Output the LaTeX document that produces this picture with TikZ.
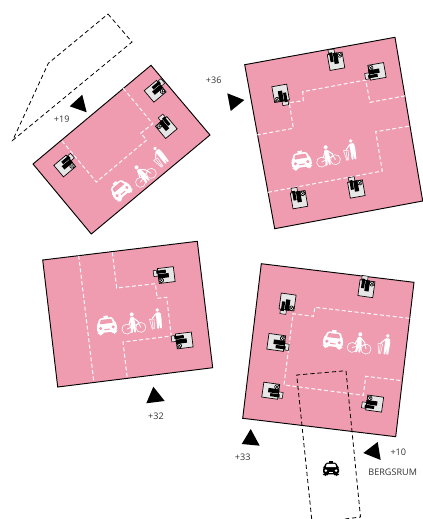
\documentclass[tikz,border=0pt]{standalone}
\usepackage{fontspec}
\setmainfont{Open Sans}
\definecolor{pinkfill}{HTML}{EF9BB0}
\definecolor{bldgrey}{HTML}{E6E6E6}
\definecolor{txtc}{HTML}{333333}
\tikzset{
  plot/.style={draw=black,line width=0.7pt,fill=pinkfill,line join=miter},
  walkway/.style={draw=white!90!pinkfill,line width=0.8pt,dash pattern=on 3pt off 1.8pt},
  limit/.style={draw=black,line width=0.6pt,dash pattern=on 3.2pt off 2.2pt},
  marker/.style={fill=black,draw=none},
  lbl/.style={font=\fontsize{6.8}{8}\selectfont,text=txtc,inner sep=0pt},
  pics/bld/.style={code={
    \fill[bldgrey,draw=black,line width=0.5pt] (-7.5,-6) rectangle (7.5,10);
    \fill[bldgrey,draw=black,line width=0.4pt] (-6,-10.5) rectangle (0,-6);
    \fill[black] (-5.5,-7.5) rectangle (-2.4,2);
    \fill[black] (-1.8,-6.5) rectangle (2.5,4.5);
    \fill[white,draw=black,line width=0.5pt] (4.6,-3.6) circle (2.3);
    \draw[black,line width=0.4pt] (3.3,-4.9) -- (5.9,-2.3) (3.3,-2.3) -- (5.9,-4.9);
  }},
  pics/car/.style 2 args={code={
    \fill[#1] (-2.2,-10) rectangle (2.2,-7.8);
    \fill[#1,rounded corners=1.2pt] (-6.8,-8) -- (6.8,-8) -- (8.4,-2.6) -- (10,-1.5) -- (10,6) -- (8.7,6) -- (8.7,9) -- (5.2,9) -- (5.2,6.6) -- (-5.2,6.6) -- (-5.2,9) -- (-8.7,9) -- (-8.7,6) -- (-10,6) -- (-10,-1.5) -- (-8.4,-2.6) -- cycle;
    \fill[#2,rounded corners=0.5pt] (-5.3,-6.4) -- (5.3,-6.4) -- (6.6,-2.2) -- (-6.6,-2.2) -- cycle;
    \fill[#2] (-6.3,2) circle (1.7) (6.3,2) circle (1.7);
    \fill[#2] (-2.8,3.2) rectangle (2.8,4.2);
  }},
  pics/bike/.style={code={
    \draw[white,line width=0.45pt] (-7,5) circle (5) (7,5) circle (5);
    \fill[white] (-0.5,-9) circle (2);
    \fill[white,rounded corners=0.8pt] (-2.6,-6.5) -- (1,-6.5) -- (2,0) -- (1.6,9.5) -- (-0.2,9.5) -- (-0.6,3) -- (-1.6,9.5) -- (-3.6,9.5) -- (-2.8,1) -- cycle;
    \draw[white,line width=0.8pt] (0.5,-5.5) -- (5.2,-1) (-2,-5) -- (-4.5,1);
    \draw[white,line width=0.6pt] (7,5) -- (4.6,-1.8) (-7,5) -- (2,2) -- (5.6,1);
  }},
  pics/binman/.style={code={
    \fill[white] (2.4,-9.5) circle (1.9);
    \fill[white,rounded corners=0.8pt] (0,-7) -- (5.2,-7) -- (5.6,-1) -- (4.9,9.5) -- (3.1,9.5) -- (2.7,2) -- (2,9.5) -- (0.2,9.5) -- (0.4,-2) -- cycle;
    \draw[white,line width=0.8pt] (0.6,-6) -- (-3.6,-1.6);
    \draw[white,line width=0.45pt,line join=round] (-6.4,-1.2) -- (-1.8,-0.8) -- (-2.7,8.8) -- (-4.8,8.8) -- cycle (-4,0) -- (-3.9,8);
  }}
}
\begin{document}
\begin{tikzpicture}[x=0.75pt,y=-0.75pt]
\useasboundingbox (0,0) rectangle (423,519);

% plots
\draw[plot] (33,164) -- (151,65.3) -- (210,135) -- (91.3,234) -- cycle;
\draw[plot] (244.7,64.7) -- (395,37.3) -- (422.7,201) -- (274.7,228.7) -- cycle;
\draw[plot] (42.7,260) -- (197.3,241.3) -- (212.7,367.7) -- (57.7,387) -- cycle;
\draw[plot] (261.3,263.7) -- (414,282.3) -- (395.7,436.7) -- (242.7,418.3) -- cycle;

% walkways
\draw[walkway] (123.3,88.3) -- (152.7,123.7) -- (140.7,133.3) -- (146.7,140) -- (96.3,182) -- (62.3,141.3);
\draw[walkway] (256.7,135) -- (293.3,128.3) -- (289.3,102.7) -- (303.3,100.7) -- (302.7,91.7) -- (365.7,80) -- (370,102.3) -- (406,95.7);
\draw[walkway] (268,192.3) -- (382.3,171) -- (375.7,131.7) -- (412,125.7);
\draw[walkway] (78.7,255.7) -- (93.7,380.7);
\draw[walkway] (112.3,252.3) -- (116.7,288) -- (155.3,283.7) -- (157.3,298.3) -- (166.7,297.3) -- (171.3,336) -- (123,342) -- (127.3,378.3);
\draw[walkway] (409.3,318.3) -- (315,307.3) -- (313.3,316.3) -- (293,313.7) -- (284,385) -- (363.3,395.3) -- (365.7,376.3) -- (402.3,380.7);

% dashed limits
\draw[limit] (108,14) -- (132,42) -- (12.7,140.3) -- (48.3,63.3) -- cycle;
\draw[limit] (311.7,519) -- (296.7,375) -- (346,370.7) -- (360.5,517) -- (345,519);

% buildings
\pic[rotate=-50] at (66.3,164.7) {bld};
\pic[rotate=-50] at (156.7,90) {bld};
\pic[rotate=40,xscale=-1] at (165,126) {bld};
\pic[rotate=10] at (335.7,59.3) {bld};
\pic[rotate=100] at (375,71.7) {bld};
\pic[rotate=-170] at (281,95.3) {bld};
\pic[rotate=10] at (298.7,197.7) {bld};
\pic[rotate=10] at (356,187) {bld};
\pic[rotate=97,xscale=-1] at (164.3,275.3) {bld};
\pic[rotate=97,xscale=-1] at (182.3,340.7) {bld};
\pic[rotate=-8] at (366.7,286.7) {bld};
\pic[rotate=-188,xscale=-1] at (287.3,304) {bld};
\pic[rotate=-98,xscale=-1.05,yscale=1.05] at (278.3,342.7) {bld};
\pic[rotate=-98,xscale=-1] at (272.7,391) {bld};
\pic[rotate=82] at (372.7,403.3) {bld};

% icons
\pic[rotate=40] at (120.7,190) {car={white}{pinkfill}};
\pic[rotate=40] at (142.7,174) {bike};
\pic[rotate=40] at (159.3,157.3) {binman};
\pic[rotate=10] at (301.3,160.7) {car={white}{pinkfill}};
\pic[rotate=10] at (327.7,156) {bike};
\pic[rotate=10] at (350,150.7) {binman};
\pic[rotate=7] at (106.7,325.7) {car={white}{pinkfill}};
\pic[rotate=7] at (133.3,323.3) {bike};
\pic[rotate=7] at (156,319.7) {binman};
\pic[rotate=-7] at (333.3,340) {car={white}{pinkfill}};
\pic[rotate=-7] at (359.7,343.3) {bike};
\pic[rotate=-7] at (384.3,345) {binman};
\pic[scale=0.8] at (331,469) {car={black}{white}};

% view markers
\fill[marker] (69.7,106.3) -- (82.3,94.7) -- (86.7,112.3) -- cycle;
\fill[marker] (227.3,93.3) -- (244.3,100) -- (230.7,111) -- cycle;
\fill[marker] (146.3,403.3) -- (153.3,386.7) -- (164.7,401) -- cycle;
\fill[marker] (241.7,444) -- (250.7,429) -- (259.7,445.7) -- cycle;
\fill[marker] (363.3,453) -- (377.7,442) -- (380.7,460) -- cycle;

% labels
\node[lbl] (l19) at (61.7,119) {+19};
\node[lbl] (l36) at (213.7,80) {+36};
\node[lbl] (l32) at (156,416) {+32};
\node[lbl] (l33) at (242.7,457) {+33};
\node[lbl] (l10) at (398.3,452.7) {+10};
\node[lbl] (lberg) at (392.7,472.7) {BERGSRUM};
\end{tikzpicture}
\end{document}
